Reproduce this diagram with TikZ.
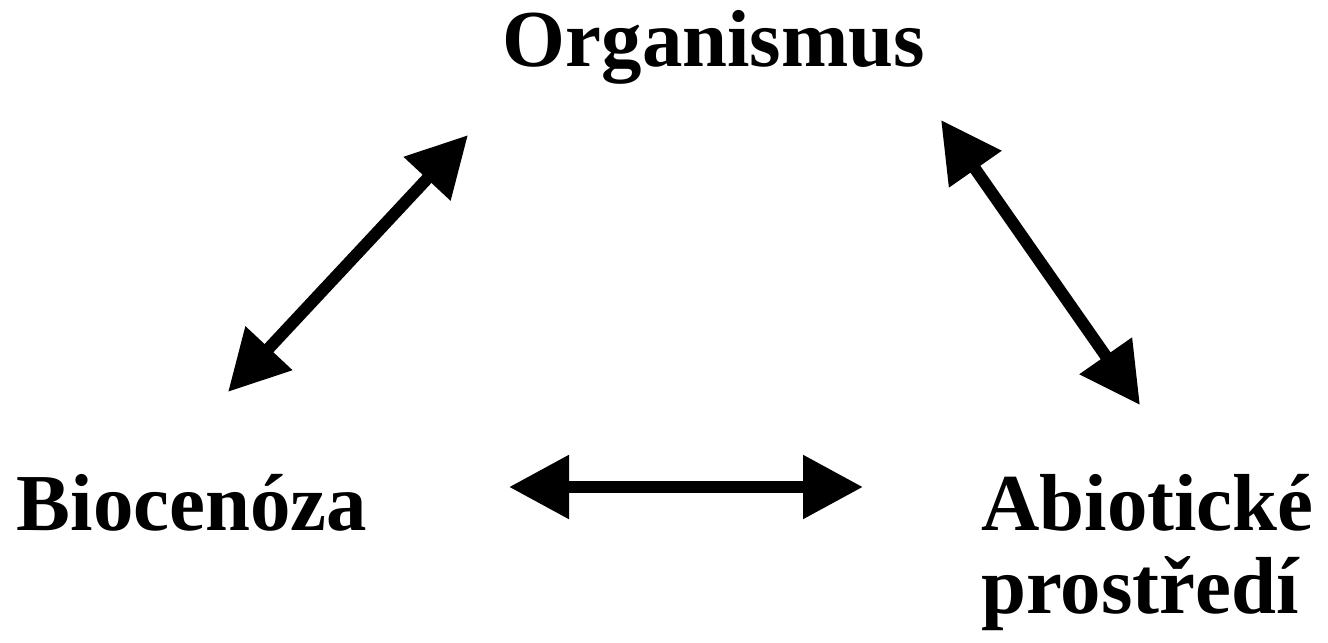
\documentclass[tikz,border=0pt]{standalone}
\usepackage{fontspec}
\setmainfont{Liberation Serif}
\usetikzlibrary{arrows.meta}

\begin{document}
\begin{tikzpicture}[
	label/.style={font=\fontsize{46}{50}\selectfont\bfseries, inner sep=0pt},
	both/.style={line width=0.24cm, {Triangle[length=1.2cm,width=1.22cm]}-{Triangle[length=1.2cm,width=1.22cm]}}
	]
			%%%%% START %%%%%
			
			\useasboundingbox (0, 0) rectangle (26.56, 12.84);
			
			\node[label, anchor=base] (org) at (14.28, 11.5) {Organismus};
			\node[label, anchor=base west] (bio) at (0.33, 2.24) {Biocenóza};
			\node[label, anchor=base west] (abio) at (19.62, 2.24) {Abiotické};
			\node[label, anchor=base west] (prost) at (19.62, 0.58) {prostředí};
			
			\coordinate (bioTop) at (4.56, 5.00);
			\coordinate (orgLeft) at (9.36, 10.14);
			\coordinate (orgRight) at (18.82, 10.44);
			\coordinate (abioTop) at (22.80, 4.74);
			\coordinate (bioRight) at (10.18, 3.10);
			\coordinate (abioLeft) at (17.26, 3.10);
			
			\draw[both] (bioTop) -- (orgLeft);
			\draw[both] (orgRight) -- (abioTop);
			\draw[both] (bioRight) -- (abioLeft);
			
			%%%%% END %%%%%
\end{tikzpicture}
\end{document}
